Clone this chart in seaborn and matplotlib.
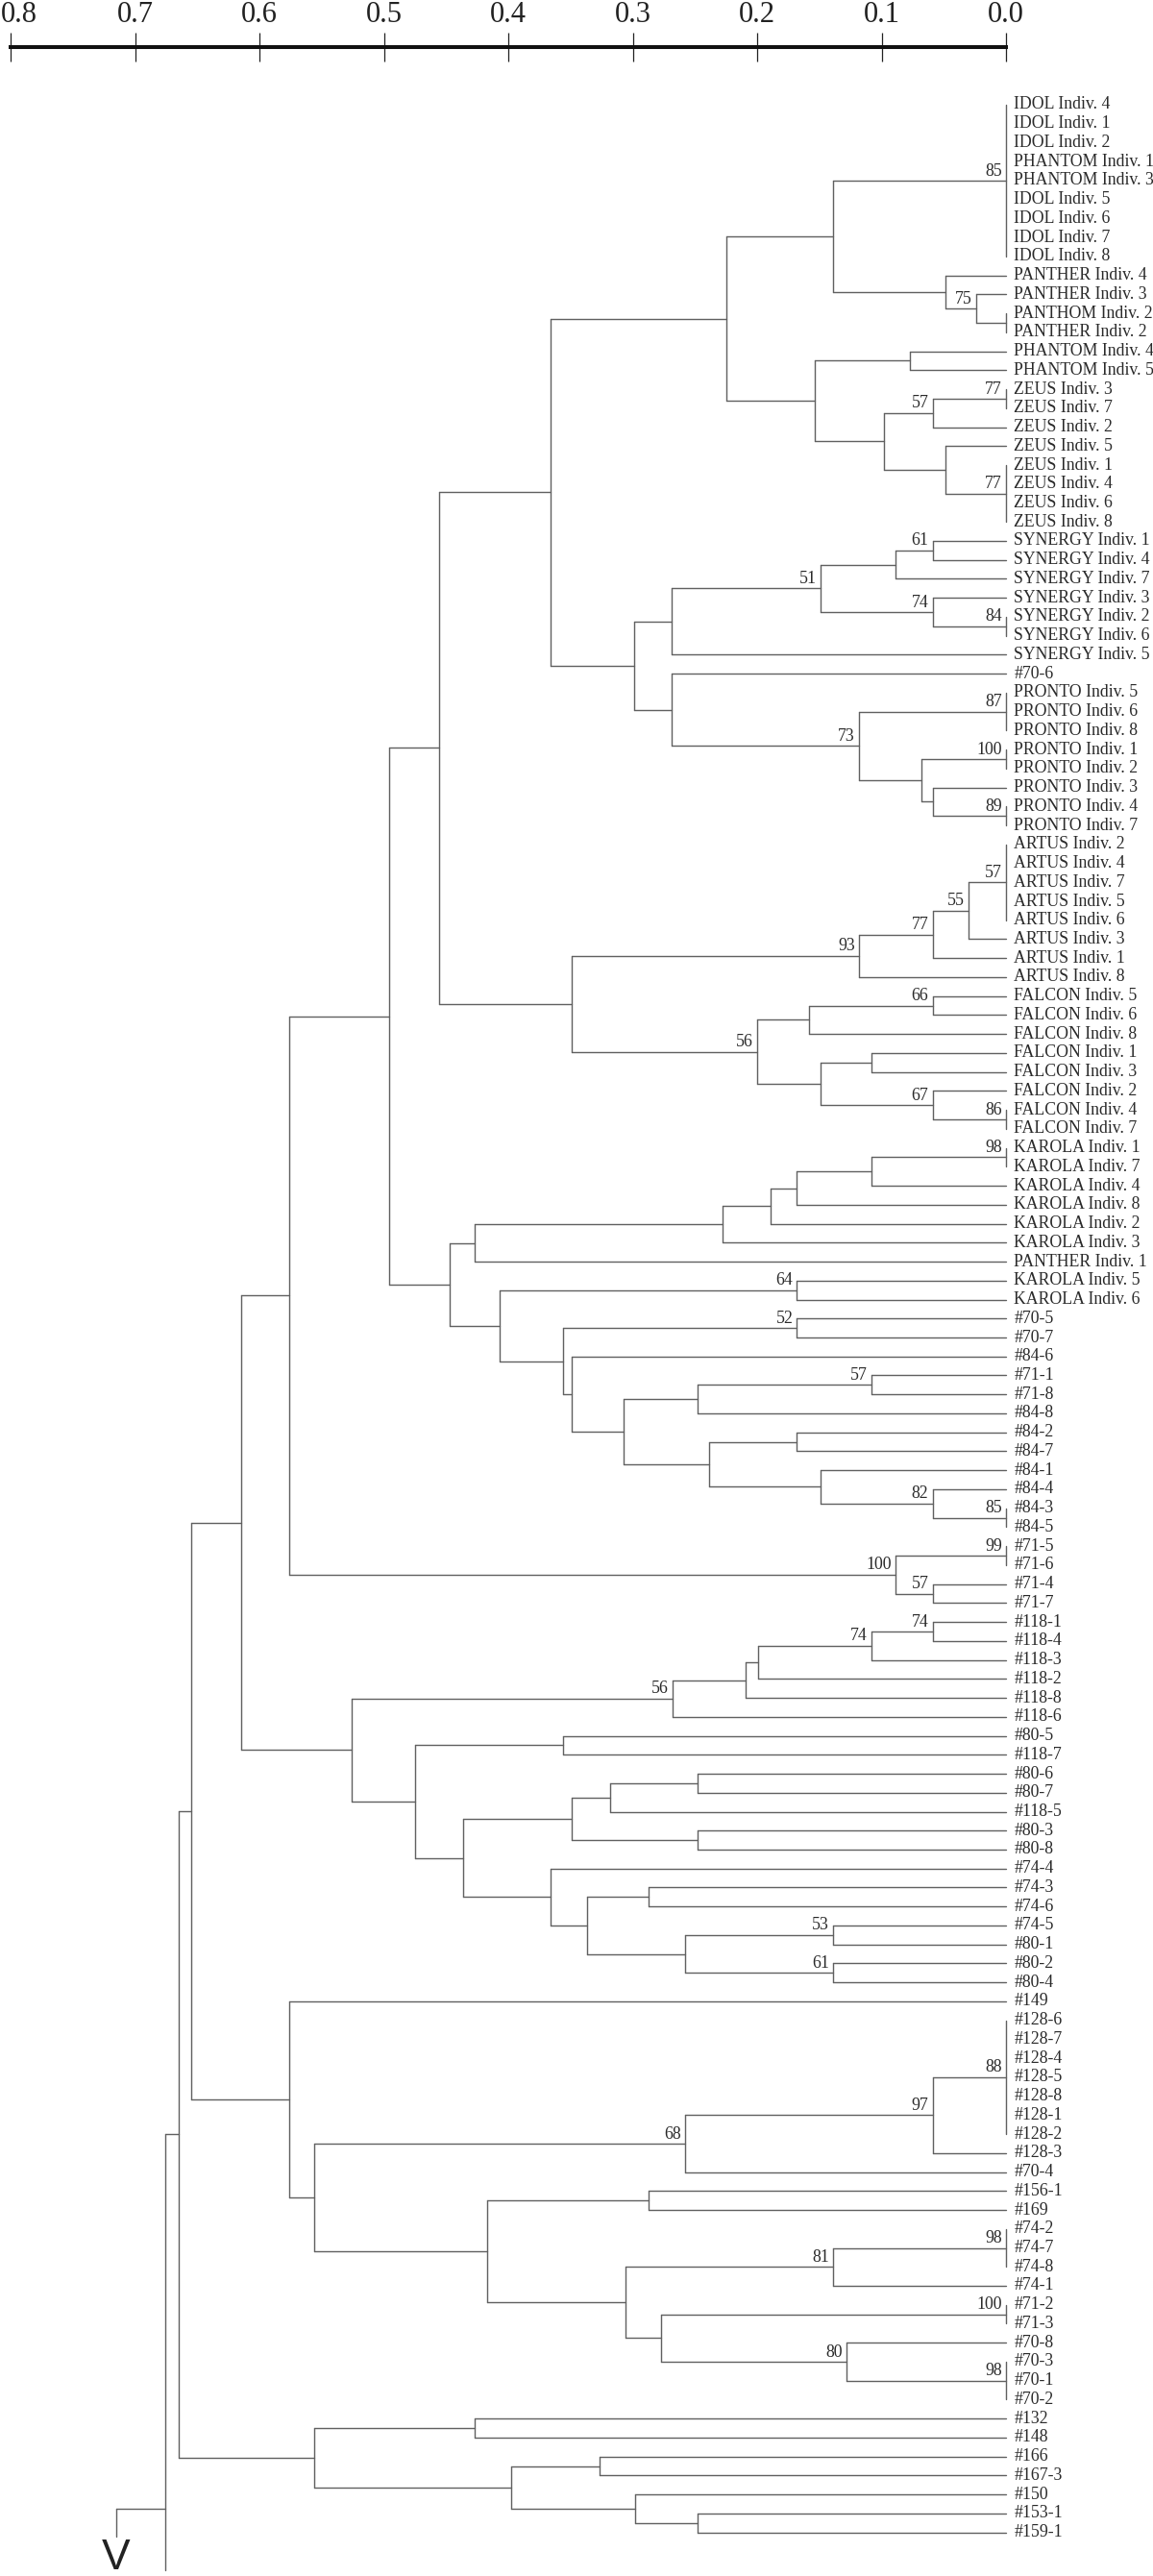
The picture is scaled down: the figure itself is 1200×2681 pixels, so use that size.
import numpy as np
import pandas as pd
import seaborn as sns
import matplotlib.pyplot as plt
from matplotlib.transforms import ScaledTranslation

leaves = [
    "IDOL Indiv. 4", "IDOL Indiv. 1", "IDOL Indiv. 2", "PHANTOM Indiv. 1", "PHANTOM Indiv. 3",
    "IDOL Indiv. 5", "IDOL Indiv. 6", "IDOL Indiv. 7", "IDOL Indiv. 8",
    "PANTHER Indiv. 4", "PANTHER Indiv. 3", "PANTHOM Indiv. 2", "PANTHER Indiv. 2",
    "PHANTOM Indiv. 4", "PHANTOM Indiv. 5",
    "ZEUS Indiv. 3", "ZEUS Indiv. 7", "ZEUS Indiv. 2", "ZEUS Indiv. 5", "ZEUS Indiv. 1",
    "ZEUS Indiv. 4", "ZEUS Indiv. 6", "ZEUS Indiv. 8",
    "SYNERGY Indiv. 1", "SYNERGY Indiv. 4", "SYNERGY Indiv. 7", "SYNERGY Indiv. 3",
    "SYNERGY Indiv. 2", "SYNERGY Indiv. 6", "SYNERGY Indiv. 5", "#70-6",
    "PRONTO Indiv. 5", "PRONTO Indiv. 6", "PRONTO Indiv. 8", "PRONTO Indiv. 1", "PRONTO Indiv. 2",
    "PRONTO Indiv. 3", "PRONTO Indiv. 4", "PRONTO Indiv. 7",
    "ARTUS Indiv. 2", "ARTUS Indiv. 4", "ARTUS Indiv. 7", "ARTUS Indiv. 5", "ARTUS Indiv. 6",
    "ARTUS Indiv. 3", "ARTUS Indiv. 1", "ARTUS Indiv. 8",
    "FALCON Indiv. 5", "FALCON Indiv. 6", "FALCON Indiv. 8", "FALCON Indiv. 1", "FALCON Indiv. 3",
    "FALCON Indiv. 2", "FALCON Indiv. 4", "FALCON Indiv. 7",
    "KAROLA Indiv. 1", "KAROLA Indiv. 7", "KAROLA Indiv. 4", "KAROLA Indiv. 8", "KAROLA Indiv. 2",
    "KAROLA Indiv. 3", "PANTHER Indiv. 1", "KAROLA Indiv. 5", "KAROLA Indiv. 6",
    "#70-5", "#70-7", "#84-6", "#71-1", "#71-8", "#84-8", "#84-2", "#84-7", "#84-1", "#84-4",
    "#84-3", "#84-5", "#71-5", "#71-6", "#71-4", "#71-7",
    "#118-1", "#118-4", "#118-3", "#118-2", "#118-8", "#118-6", "#80-5", "#118-7",
    "#80-6", "#80-7", "#118-5", "#80-3", "#80-8", "#74-4", "#74-3", "#74-6", "#74-5", "#80-1",
    "#80-2", "#80-4", "#149",
    "#128-6", "#128-7", "#128-4", "#128-5", "#128-8", "#128-1", "#128-2", "#128-3", "#70-4",
    "#156-1", "#169", "#74-2", "#74-7", "#74-8", "#74-1", "#71-2", "#71-3",
    "#70-8", "#70-3", "#70-1", "#70-2", "#132", "#148", "#166", "#167-3", "#150", "#153-1", "#159-1",
]

# (node, children, height, bootstrap) - ints are leaf indices
merges = [
    ("idol", [0, 1, 2, 3, 4, 5, 6, 7, 8], 0.0, 85),
    ("pa23", [11, 12], 0.0, None),
    ("pab", [10, "pa23"], 0.024, 75),
    ("pac", [9, "pab"], 0.049, None),
    ("d1", ["idol", "pac"], 0.139, None),
    ("ph45", [13, 14], 0.077, None),
    ("z37", [15, 16], 0.0, 77),
    ("zf", ["z37", 17], 0.059, 57),
    ("z1468", [19, 20, 21, 22], 0.0, 77),
    ("zg", [18, "z1468"], 0.049, None),
    ("zh", ["zf", "zg"], 0.098, None),
    ("zi", ["ph45", "zh"], 0.154, None),
    ("j", ["d1", "zi"], 0.225, None),
    ("s14", [23, 24], 0.059, 61),
    ("s147", ["s14", 25], 0.089, None),
    ("s26", [27, 28], 0.0, 84),
    ("s326", [26, "s26"], 0.059, 74),
    ("sn", ["s147", "s326"], 0.149, 51),
    ("so", ["sn", 29], 0.269, None),
    ("p568", [31, 32, 33], 0.0, 87),
    ("p12", [34, 35], 0.0, 100),
    ("p47", [37, 38], 0.0, 89),
    ("p347", [36, "p47"], 0.059, None),
    ("pq", ["p12", "p347"], 0.068, None),
    ("pr", ["p568", "pq"], 0.118, 73),
    ("ps", [30, "pr"], 0.269, None),
    ("t", ["so", "ps"], 0.299, None),
    ("u", ["j", "t"], 0.366, None),
    ("a0", [39, 40, 41, 42, 43], 0.0, 57),
    ("a3", ["a0", 44], 0.030, 55),
    ("a1", ["a3", 45], 0.059, 77),
    ("a8", ["a1", 46], 0.118, 93),
    ("f56", [47, 48], 0.059, 66),
    ("f568", ["f56", 49], 0.158, None),
    ("f13", [50, 51], 0.108, None),
    ("f47", [53, 54], 0.0, 86),
    ("f247", [52, "f47"], 0.059, 67),
    ("f1347", ["f13", "f247"], 0.149, None),
    ("fal", ["f568", "f1347"], 0.200, 56),
    ("af", ["a8", "fal"], 0.349, None),
    ("v", ["u", "af"], 0.456, None),
    ("k17", [55, 56], 0.0, 98),
    ("k4", ["k17", 57], 0.108, None),
    ("k8", ["k4", 58], 0.168, None),
    ("k2", ["k8", 59], 0.189, None),
    ("k3", ["k2", 60], 0.228, None),
    ("kp", ["k3", 61], 0.427, None),
    ("k56", [62, 63], 0.168, 64),
    ("c70", [64, 65], 0.168, 52),
    ("c71", [67, 68], 0.108, 57),
    ("c718", ["c71", 69], 0.248, None),
    ("c847", [70, 71], 0.168, None),
    ("c35", [74, 75], 0.0, 85),
    ("c435", [73, "c35"], 0.059, 82),
    ("c1435", [72, "c435"], 0.149, None),
    ("c84", ["c847", "c1435"], 0.239, None),
    ("c8x", ["c718", "c84"], 0.307, None),
    ("c846", [66, "c8x"], 0.349, None),
    ("c70x", ["c70", "c846"], 0.356, None),
    ("kx", ["k56", "c70x"], 0.407, None),
    ("kk", ["kp", "kx"], 0.447, None),
    ("w", ["v", "kk"], 0.496, None),
    ("m56", [76, 77], 0.0, 99),
    ("m47", [78, 79], 0.059, 57),
    ("m71", ["m56", "m47"], 0.089, 100),
    ("x", ["w", "m71"], 0.576, None),
    ("h14", [80, 81], 0.059, 74),
    ("h3", ["h14", 82], 0.108, 74),
    ("h2", ["h3", 83], 0.199, None),
    ("h8", ["h2", 84], 0.209, None),
    ("h6", ["h8", 85], 0.268, 56),
    ("e57", [86, 87], 0.356, None),
    ("e67", [88, 89], 0.248, None),
    ("e5", ["e67", 90], 0.318, None),
    ("e38", [91, 92], 0.248, None),
    ("e80", ["e5", "e38"], 0.349, None),
    ("g36", [94, 95], 0.287, None),
    ("g51", [96, 97], 0.139, 53),
    ("g24", [98, 99], 0.139, 61),
    ("g5124", ["g51", "g24"], 0.258, None),
    ("g3x", ["g36", "g5124"], 0.337, None),
    ("g4", [93, "g3x"], 0.366, None),
    ("eg", ["e80", "g4"], 0.436, None),
    ("eg2", ["e57", "eg"], 0.475, None),
    ("he", ["h6", "eg2"], 0.526, None),
    ("y", ["x", "he"], 0.615, None),
    ("b128", [101, 102, 103, 104, 105, 106, 107], 0.0, 88),
    ("b1283", ["b128", 108], 0.059, 97),
    ("b704", ["b1283", 109], 0.258, 68),
    ("q156", [110, 111], 0.287, None),
    ("q74", [112, 113, 114], 0.0, 98),
    ("q741", ["q74", 115], 0.139, 81),
    ("q712", [116, 117], 0.0, 100),
    ("q70", [119, 120, 121], 0.0, 98),
    ("q708", [118, "q70"], 0.128, 80),
    ("q71x", ["q712", "q708"], 0.277, None),
    ("q7x", ["q741", "q71x"], 0.306, None),
    ("qq", ["q156", "q7x"], 0.417, None),
    ("bq", ["b704", "qq"], 0.556, None),
    ("b149", [100, "bq"], 0.576, None),
    ("z", ["y", "b149"], 0.655, None),
    ("r132", [122, 123], 0.427, None),
    ("r166", [124, 125], 0.327, None),
    ("r153", [127, 128], 0.248, None),
    ("r150", [126, "r153"], 0.298, None),
    ("r16x", ["r166", "r150"], 0.398, None),
    ("rr", ["r132", "r16x"], 0.556, None),
    ("top", ["z", "rr"], 0.665, None),
]

root_height = 0.676
outgroup_height = 0.715
scale_ticks = [0.0, 0.1, 0.2, 0.3, 0.4, 0.5, 0.6, 0.7, 0.8]

sns.set_theme(style="white")
plt.rcParams["font.family"] = ["Liberation Serif", "DejaVu Serif"]

line_col = "#606060"
text_col = "#2a2a2a"

# positions of leaves and internal nodes
height = {i: 0.0 for i in range(len(leaves))}
ypos = {i: float(i) for i in range(len(leaves))}
segs = []


def add_seg(x0, y0, x1, y1):
    k = len(segs)
    segs.append({"seg": k, "x": x0, "y": y0})
    segs.append({"seg": k, "x": x1, "y": y1})


for name, kids, h, boot in merges:
    ys = [ypos[k] for k in kids]
    ypos[name] = (min(ys) + max(ys)) / 2
    height[name] = h
    add_seg(h, min(ys), h, max(ys))
    for k in kids:
        if height[k] < h:
            add_seg(h, ypos[k], height[k], ypos[k])

# root and the cut-off outgroup at the bottom
n = len(leaves)
add_seg(root_height, ypos["top"], height["top"], ypos["top"])
add_seg(root_height, ypos["top"], root_height, n + 1)
add_seg(outgroup_height, n - 2.25, root_height, n - 2.25)
add_seg(outgroup_height, n - 2.25, outgroup_height, n - 0.8)

df = pd.DataFrame(segs)

fig = plt.figure(figsize=(12, 26.81), dpi=100)
ax = fig.add_axes([0, 0, 1, 1])
sns.lineplot(data=df, x="x", y="y", units="seg", estimator=None, sort=False,
             color=line_col, linewidth=1.0, ax=ax, legend=False)

for i, lab in enumerate(leaves):
    ax.annotate(lab, (0, i), xytext=(6, 0), textcoords="offset points",
                ha="left", va="center", fontsize=12.8, color=text_col)

for name, kids, h, boot in merges:
    if boot is not None:
        ax.annotate(str(boot), (h, ypos[name]), xytext=(-3, 1), textcoords="offset points",
                    ha="right", va="bottom", fontsize=12.8, color=text_col)

ax.text(outgroup_height, n - 0.7, "V", ha="center", va="top", fontsize=32,
        family="Liberation Sans", color="#222222")

ax.set_xlim(0.8085, -0.1181)
ax.set_ylim(130.3, -5.52)
ax.set_axis_off()

# distance scale on top
top = 1 - 49 / 2681
sc = fig.add_axes([0, top - 0.005, 1, 0.005])
sc.set_facecolor("none")
sc.set_xlim(0.8085, -0.1181)
for s in ["left", "right", "bottom"]:
    sc.spines[s].set_visible(False)
sc.spines["top"].set_visible(True)
sc.spines["top"].set_bounds(0, 0.8)
sc.spines["top"].set_linewidth(2.9)
sc.spines["top"].set_color("#111111")
sc.set_yticks([])
sc.set_xticks(scale_ticks)
sc.set_xticklabels([f"{t:.1f}" for t in scale_ticks])
sc.tick_params(axis="x", top=True, labeltop=True, bottom=False, labelbottom=False,
               direction="inout", length=21.6, width=0.9, color="#222222",
               labelsize=22, labelcolor="#222222", pad=3)
sc.set_xlabel("")

# keep the 0.8 label inside the figure
for lbl in sc.get_xticklabels():
    if lbl.get_text() == "0.8":
        lbl.set_ha("left")
        lbl.set_transform(lbl.get_transform() + ScaledTranslation(-0.1, 0, fig.dpi_scale_trans))

fig.savefig("out.png", dpi=100)
